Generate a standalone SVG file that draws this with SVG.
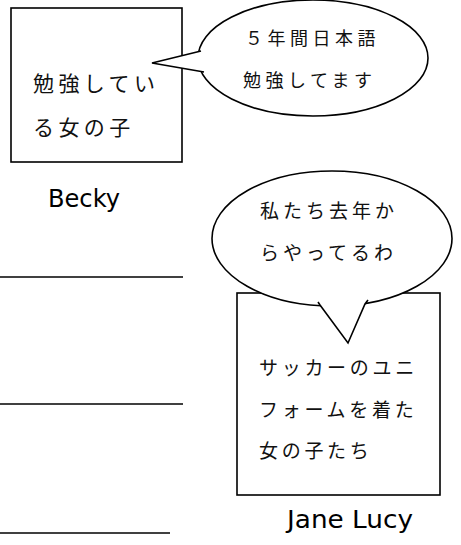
<svg xmlns="http://www.w3.org/2000/svg" width="461" height="545" viewBox="0 0 461 545">
<style>
.box{fill:#fff;stroke:#000;stroke-width:1.6}
.bub{fill:#fff;stroke:#000;stroke-width:1.6}
.jp{font-family:"Noto Sans CJK JP","Noto Sans",sans-serif;fill:#111}
.name{font-family:"DejaVu Sans","Liberation Sans",sans-serif;font-size:24px;fill:#000}
.rule{stroke:#000;stroke-width:1.6}
</style>
<rect width="461" height="545" fill="#fff"/>
<g id="lines">
<line class="rule" x1="0" y1="277" x2="183" y2="277"/>
<line class="rule" x1="0" y1="404" x2="183" y2="404"/>
<line class="rule" x1="0" y1="533" x2="170" y2="533"/>
</g>
<g id="becky-box">
<rect class="box" x="11" y="8" width="171" height="154"/>
<text class="jp" x="33" y="91" font-size="21" letter-spacing="4.4">勉強してい</text>
<text class="jp" x="33" y="135" font-size="21" letter-spacing="4.4">る女の子</text>
</g>
<g id="becky-bubble">
<ellipse class="bub" cx="313" cy="58" rx="115" ry="58"/>
<path class="bub" d="M201,51 L152,63 L204,72"/>
<text class="jp" x="245" y="45" font-size="18" letter-spacing="4.5">５年間日本語</text>
<text class="jp" x="243" y="87" font-size="18" letter-spacing="4.5">勉強してます</text>
</g>
<g id="becky-label">
<text class="name" x="48" y="207" textLength="72" lengthAdjust="spacingAndGlyphs">Becky</text>
</g>
<g id="girls-box">
<rect class="box" x="237" y="293" width="203" height="202"/>
<text class="jp" x="259" y="375" font-size="19" letter-spacing="3.7">サッカーのユニ</text>
<text class="jp" x="259" y="417" font-size="19" letter-spacing="3.7">フォームを着た</text>
<text class="jp" x="259" y="458" font-size="19" letter-spacing="3.7">女の子たち</text>
</g>
<g id="girls-bubble">
<ellipse class="bub" cx="332" cy="238.5" rx="120" ry="67.5"/>
<path class="bub" d="M318,302 L320,305 L348,343 L365,304 L368,300"/>
<text class="jp" x="260" y="218" font-size="19" letter-spacing="4">私たち去年か</text>
<text class="jp" x="260" y="260" font-size="19" letter-spacing="4">らやってるわ</text>
</g>
<g id="girls-label">
<text class="name" x="287" y="528" textLength="126" lengthAdjust="spacingAndGlyphs">Jane Lucy</text>
</g>
</svg>
